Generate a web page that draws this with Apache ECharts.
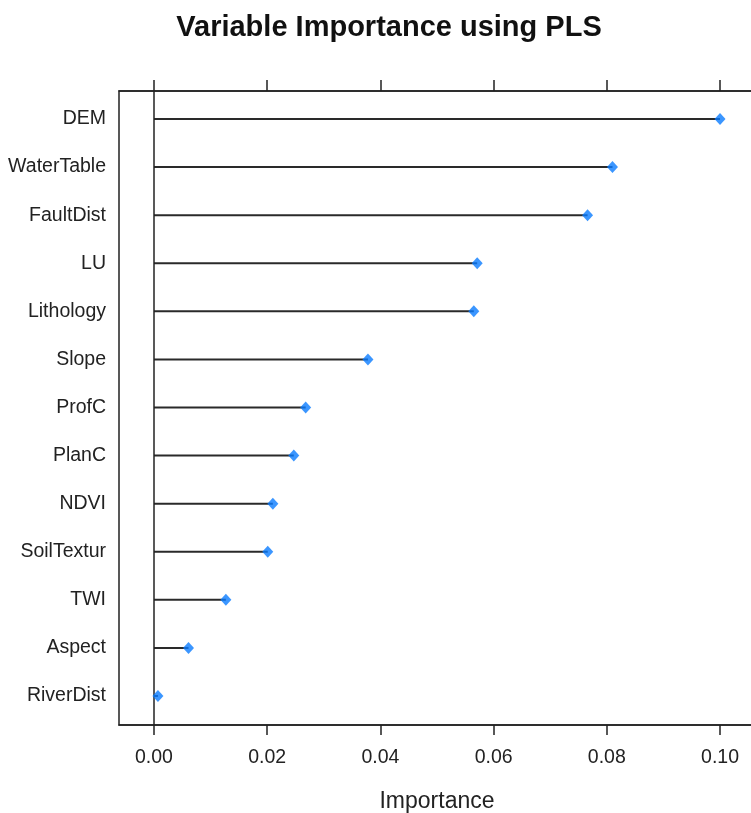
<!DOCTYPE html>
<html>
<head>
<meta charset="utf-8">
<script src="https://cdn.jsdelivr.net/npm/echarts@6/dist/echarts.min.js"></script>
<style>
  html, body { margin: 0; padding: 0; background: #fff; }
  #chart { width: 751px; height: 813px; }
</style>
</head>
<body>
<div id="chart"></div>
<script>
const variables = ['DEM', 'WaterTable', 'FaultDist', 'LU', 'Lithology', 'Slope', 'ProfC',
  'PlanC', 'NDVI', 'SoilTextur', 'TWI', 'Aspect', 'RiverDist']
const importance = [0.1000, 0.0810, 0.0766, 0.0571, 0.0565, 0.0378, 0.0268,
  0.0247, 0.0210, 0.0201, 0.0127, 0.0061, 0.0007]
const xTicks = [0, 0.02, 0.04, 0.06, 0.08, 0.10]

const X_MIN = -0.00618
const X_MAX = 0.10618
const font = 'Liberation Sans, Arial, sans-serif'
const ink = '#222'

const chart = echarts.init(document.getElementById('chart'))

chart.setOption({
  animation: false,
  graphic: [{
    type: 'text',
    x: 389,
    y: 28,
    style: {
      text: 'Variable Importance using PLS',
      font: 'bold 29px ' + font,
      fill: '#111',
      textAlign: 'center',
      textVerticalAlign: 'middle',
    },
  }],
  grid: [
    // frame + axes (right side runs off the canvas like the original)
    {
      left: 119, top: 91, width: 636, height: 634, outerBoundsMode: 'none',
      show: true, borderColor: ink, borderWidth: 1.5, backgroundColor: 'transparent',
    },
    // rows (lattice pads 0.6 of a row at each end)
    { left: 119, top: 95, width: 636, height: 625, outerBoundsMode: 'none' },
  ],
  xAxis: [
    {
      gridIndex: 0, type: 'value', position: 'bottom', min: X_MIN, max: X_MAX,
      name: 'Importance', nameLocation: 'middle', nameGap: 65,
      nameTextStyle: { fontFamily: font, fontSize: 23, color: ink },
      axisLine: { show: true, lineStyle: { color: ink, width: 1.5 } },
      axisTick: { show: true, length: 10, customValues: xTicks, lineStyle: { color: ink, width: 1.5 } },
      axisLabel: {
        customValues: xTicks, margin: 23, fontFamily: font, fontSize: 19.5, color: ink,
        formatter: v => v.toFixed(2),
      },
      splitLine: { show: false },
    },
    {
      gridIndex: 0, type: 'value', position: 'top', min: X_MIN, max: X_MAX,
      axisLine: { show: true, lineStyle: { color: ink, width: 1.5 } },
      axisTick: { show: true, length: 11, customValues: xTicks, lineStyle: { color: ink, width: 1.5 } },
      axisLabel: { show: false },
      splitLine: { show: false },
    },
    {
      gridIndex: 1, type: 'value', min: X_MIN, max: X_MAX, show: false,
    },
  ],
  yAxis: [
    { gridIndex: 0, type: 'value', min: 0, max: 1, show: false },
    {
      gridIndex: 1, type: 'category', data: variables, inverse: true,
      axisLine: { show: false },
      axisTick: { show: false },
      axisLabel: { margin: 13, fontFamily: font, fontSize: 19.5, color: ink },
      splitLine: { show: false },
    },
  ],
  series: [
    {
      // vertical reference line at zero
      type: 'line', xAxisIndex: 0, yAxisIndex: 0, data: [],
      markLine: {
        silent: true, symbol: 'none', label: { show: false },
        lineStyle: { color: ink, type: 'solid', width: 1.5 },
        data: [{ xAxis: 0 }],
      },
    },
    {
      type: 'bar', xAxisIndex: 2, yAxisIndex: 1, data: importance,
      barWidth: 2, itemStyle: { color: '#2a2a2a' },
    },
    {
      type: 'scatter', xAxisIndex: 2, yAxisIndex: 1, data: importance,
      symbol: 'diamond', symbolSize: [11, 12], itemStyle: { color: '#0a7cff' },
      z: 5,
    },
  ],
})
</script>
</body>
</html>
